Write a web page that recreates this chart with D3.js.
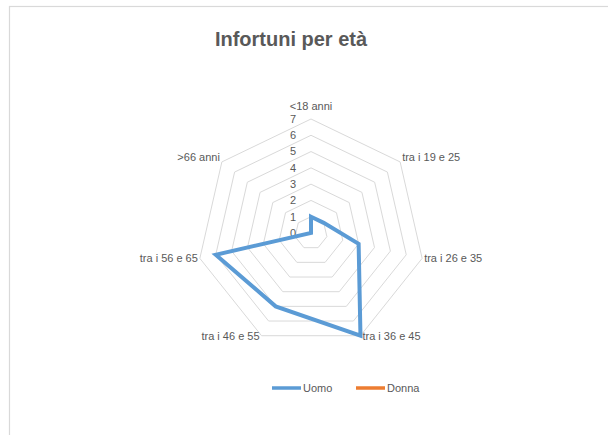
<!doctype html>
<html>
<head>
    <style>
        body { margin: 0; background: #fff; }
        text { font-family: "Liberation Sans", Arial, sans-serif; fill: #595959; }
    </style>
    <script src="https://d3js.org/d3.v7.min.js"></script>
</head>
<body>
<svg width="608" height="435"></svg>
<script>
    // data
    var categories = ["<18 anni", "tra i 19 e 25", "tra i 26 e 35", "tra i 36 e 45", "tra i 46 e 55", "tra i 56 e 65", ">66 anni"];
    var uomo = [1, 1, 3, 7, 5, 6, 0];
    var donna = [];   // no values shown for Donna
    var seriesNames = ["Uomo", "Donna"];
    var seriesColors = ["#5b9bd5", "#ed7d31"];
    var tickValues = [0, 1, 2, 3, 4, 5, 6, 7];

    var svg = d3.select("svg"),
        cx = 311, cy = 233, radius = 114;

    // chart area border
    svg.append("rect")
       .attr("x", 9.5).attr("y", 6.5)
       .attr("width", 640).attr("height", 460)
       .attr("fill", "none")
       .attr("stroke", "#d9d9d9")
       .attr("stroke-width", 1.2);

    svg.append("text")
       .attr("x", 291)
       .attr("y", 46)
       .attr("text-anchor", "middle")
       .attr("font-size", "20px")
       .attr("font-weight", "bold")
       .text("Infortuni per età");

    var r = d3.scaleLinear().domain([0, d3.max(tickValues)]).range([0, radius]);
    var angle = d3.scalePoint().domain(categories).range([0, 2 * Math.PI * (categories.length - 1) / categories.length]);

    var g = svg.append("g").attr("transform", "translate(" + cx + "," + cy + ")");

    // grid rings
    var ring = d3.lineRadial()
        .angle(function(d) { return angle(d); })
        .curve(d3.curveLinearClosed);

    g.selectAll(".ring")
     .data(tickValues.filter(function(t) { return t > 0; }))
     .enter().append("path")
     .attr("class", "ring")
     .attr("d", function(t) { return ring.radius(r(t))(categories); })
     .attr("fill", "none")
     .attr("stroke", "#d9d9d9")
     .attr("stroke-width", 1);

    // tick labels along the top axis
    g.selectAll(".tick")
     .data(tickValues)
     .enter().append("text")
     .attr("class", "tick")
     .attr("x", -18)
     .attr("y", function(t) { return -r(t); })
     .attr("dy", "0.35em")
     .attr("text-anchor", "middle")
     .attr("font-size", "11px")
     .text(function(t) { return t; });

    // category labels
    g.selectAll(".cat")
     .data(categories)
     .enter().append("text")
     .attr("class", "cat")
     .attr("font-size", "11px")
     .attr("text-anchor", function(d) {
         var s = Math.sin(angle(d));
         return s > 0.1 ? "start" : (s < -0.1 ? "end" : "middle");
     })
     .attr("x", function(d) {
         var s = Math.sin(angle(d));
         return radius * s + (s > 0.1 ? 2 : (s < -0.1 ? -2 : 0));
     })
     .attr("y", function(d) {
         var c = Math.cos(angle(d));
         if (c > 0.95) return -radius * c - 9;
         if (c > 0.5) return -radius * c - 1;
         return -radius * c;
     })
     .attr("dy", function(d) { return Math.cos(angle(d)) > 0.5 ? "0" : "0.35em"; })
     .text(function(d) { return d; });

    // series
    var line = d3.lineRadial()
        .angle(function(d, i) { return angle(categories[i]); })
        .radius(function(d) { return r(d); })
        .curve(d3.curveLinearClosed);

    [uomo, donna].forEach(function(values, k) {
        if (!values.length) return;
        g.append("path")
         .attr("d", line(values))
         .attr("fill", "none")
         .attr("stroke", seriesColors[k])
         .attr("stroke-width", 4)
         .attr("stroke-linejoin", "miter");
    });

    // legend
    var legend = svg.selectAll(".legend")
        .data(seriesNames)
        .enter().append("g")
        .attr("class", "legend")
        .attr("transform", function(d, i) { return "translate(" + (272 + i * 84) + ",388)"; });

    legend.append("line")
          .attr("x1", 0).attr("x2", 29)
          .attr("stroke", function(d, i) { return seriesColors[i]; })
          .attr("stroke-width", 3.5);

    legend.append("text")
          .attr("x", 31)
          .attr("dy", "0.35em")
          .attr("font-size", "11px")
          .text(function(d) { return d; });
</script>
</body>
</html>
